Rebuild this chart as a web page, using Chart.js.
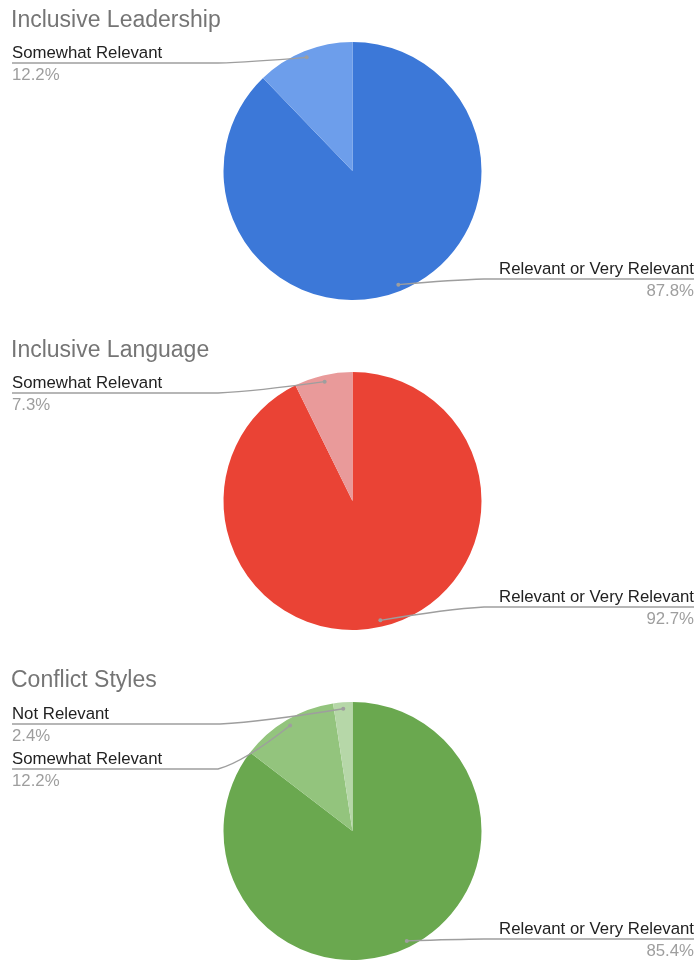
<!DOCTYPE html>
<html>
<head>
<meta charset="utf-8">
<title>Relevance ratings by topic</title>
<script src="https://cdn.jsdelivr.net/npm/chart.js@4/dist/chart.umd.min.js"></script>
<style>
  html, body { margin: 0; padding: 0; background: #ffffff; overflow: hidden; }
  .panel { position: absolute; left: 0; width: 696px; }
  canvas { display: block; }
</style>
</head>
<body>
<div class="panel" style="top:0px"><canvas id="leadership" width="696" height="330"></canvas></div>
<div class="panel" style="top:330px"><canvas id="language" width="696" height="330"></canvas></div>
<div class="panel" style="top:660px"><canvas id="conflict" width="696" height="302"></canvas></div>
<script>
// ---- data ----
const chartTitles = ['Inclusive Leadership', 'Inclusive Language', 'Conflict Styles'];

const leadershipLabels = ['Relevant or Very Relevant', 'Somewhat Relevant'];
const leadershipValues = [87.8, 12.2];

const languageLabels = ['Relevant or Very Relevant', 'Somewhat Relevant'];
const languageValues = [92.7, 7.3];

const conflictLabels = ['Relevant or Very Relevant', 'Somewhat Relevant', 'Not Relevant'];
const conflictValues = [85.4, 12.2, 2.4];

// ---- slice colours ----
const leadershipColors = ['#3c78d8', '#6d9eeb'];
const languageColors = ['#ea4335', '#e99a9a'];
const conflictColors = ['#6aa84f', '#93c47d', '#b6d7a8'];

// ---- callout placement (per slice: side, underline y, elbow x) ----
const leadershipCallouts = [
  { side: 'right', lineY: 279, elbowX: 484 },
  { side: 'left', lineY: 63, elbowX: 218 }
];
const languageCallouts = [
  { side: 'right', lineY: 277, elbowX: 484 },
  { side: 'left', lineY: 63, elbowX: 218 }
];
const conflictCallouts = [
  { side: 'right', lineY: 279, elbowX: 484 },
  { side: 'left', lineY: 109, elbowX: 218 },
  { side: 'left', lineY: 64, elbowX: 220 }
];

const FONT = '"Liberation Sans", Arial, Helvetica, sans-serif';

// Draws the panel title plus a leader line and two-line label for every slice.
const calloutPlugin = {
  id: 'callouts',
  afterDraw(chart, args, opts) {
    const ctx = chart.ctx;
    ctx.save();

    ctx.font = '23px ' + FONT;
    ctx.fillStyle = '#757575';
    ctx.textAlign = 'left';
    ctx.textBaseline = 'alphabetic';
    ctx.fillText(opts.title, 11, 27);

    const meta = chart.getDatasetMeta(0);
    const labels = chart.data.labels;
    const values = chart.data.datasets[0].data;

    meta.data.forEach((arc, i) => {
      const c = opts.layout[i];
      if (!c) return;
      const p = arc.getProps(['x', 'y', 'startAngle', 'endAngle', 'outerRadius'], true);
      const mid = (p.startAngle + p.endAngle) / 2;
      const px = p.x + Math.cos(mid) * p.outerRadius * 0.95;
      const py = p.y + Math.sin(mid) * p.outerRadius * 0.95;

      const left = c.side === 'left';
      const edgeX = left ? 12 : 694;

      ctx.strokeStyle = '#9e9e9e';
      ctx.lineWidth = 1.4;
      ctx.beginPath();
      ctx.moveTo(edgeX, c.lineY);
      ctx.lineTo(c.elbowX, c.lineY);
      ctx.quadraticCurveTo(c.elbowX + (px - c.elbowX) * 0.35, c.lineY + (py - c.lineY) * 0.15, px, py);
      ctx.stroke();

      ctx.fillStyle = '#9e9e9e';
      ctx.beginPath();
      ctx.arc(px, py, 2, 0, Math.PI * 2);
      ctx.fill();

      ctx.textAlign = left ? 'left' : 'right';
      ctx.font = '16.8px ' + FONT;
      ctx.fillStyle = '#222222';
      ctx.fillText(labels[i], edgeX, c.lineY - 5.5);
      ctx.fillStyle = '#9e9e9e';
      ctx.fillText(values[i].toFixed(1) + '%', edgeX, c.lineY + 17);
    });

    ctx.restore();
  }
};

function makePie(id, title, labels, values, colors, layout, bottomPad) {
  return new Chart(document.getElementById(id), {
    type: 'pie',
    data: {
      labels: labels,
      datasets: [{
        data: values,
        backgroundColor: colors,
        borderWidth: 0,
        hoverOffset: 0
      }]
    },
    options: {
      responsive: false,
      animation: false,
      rotation: 0,
      layout: { padding: { top: 42, bottom: bottomPad, left: 9, right: 0 } },
      plugins: {
        legend: { display: false },
        tooltip: { enabled: false },
        callouts: { title: title, layout: layout }
      }
    },
    plugins: [calloutPlugin]
  });
}

makePie('leadership', chartTitles[0], leadershipLabels, leadershipValues, leadershipColors, leadershipCallouts, 30);
makePie('language', chartTitles[1], languageLabels, languageValues, languageColors, languageCallouts, 30);
makePie('conflict', chartTitles[2], conflictLabels, conflictValues, conflictColors, conflictCallouts, 2);
</script>
</body>
</html>
